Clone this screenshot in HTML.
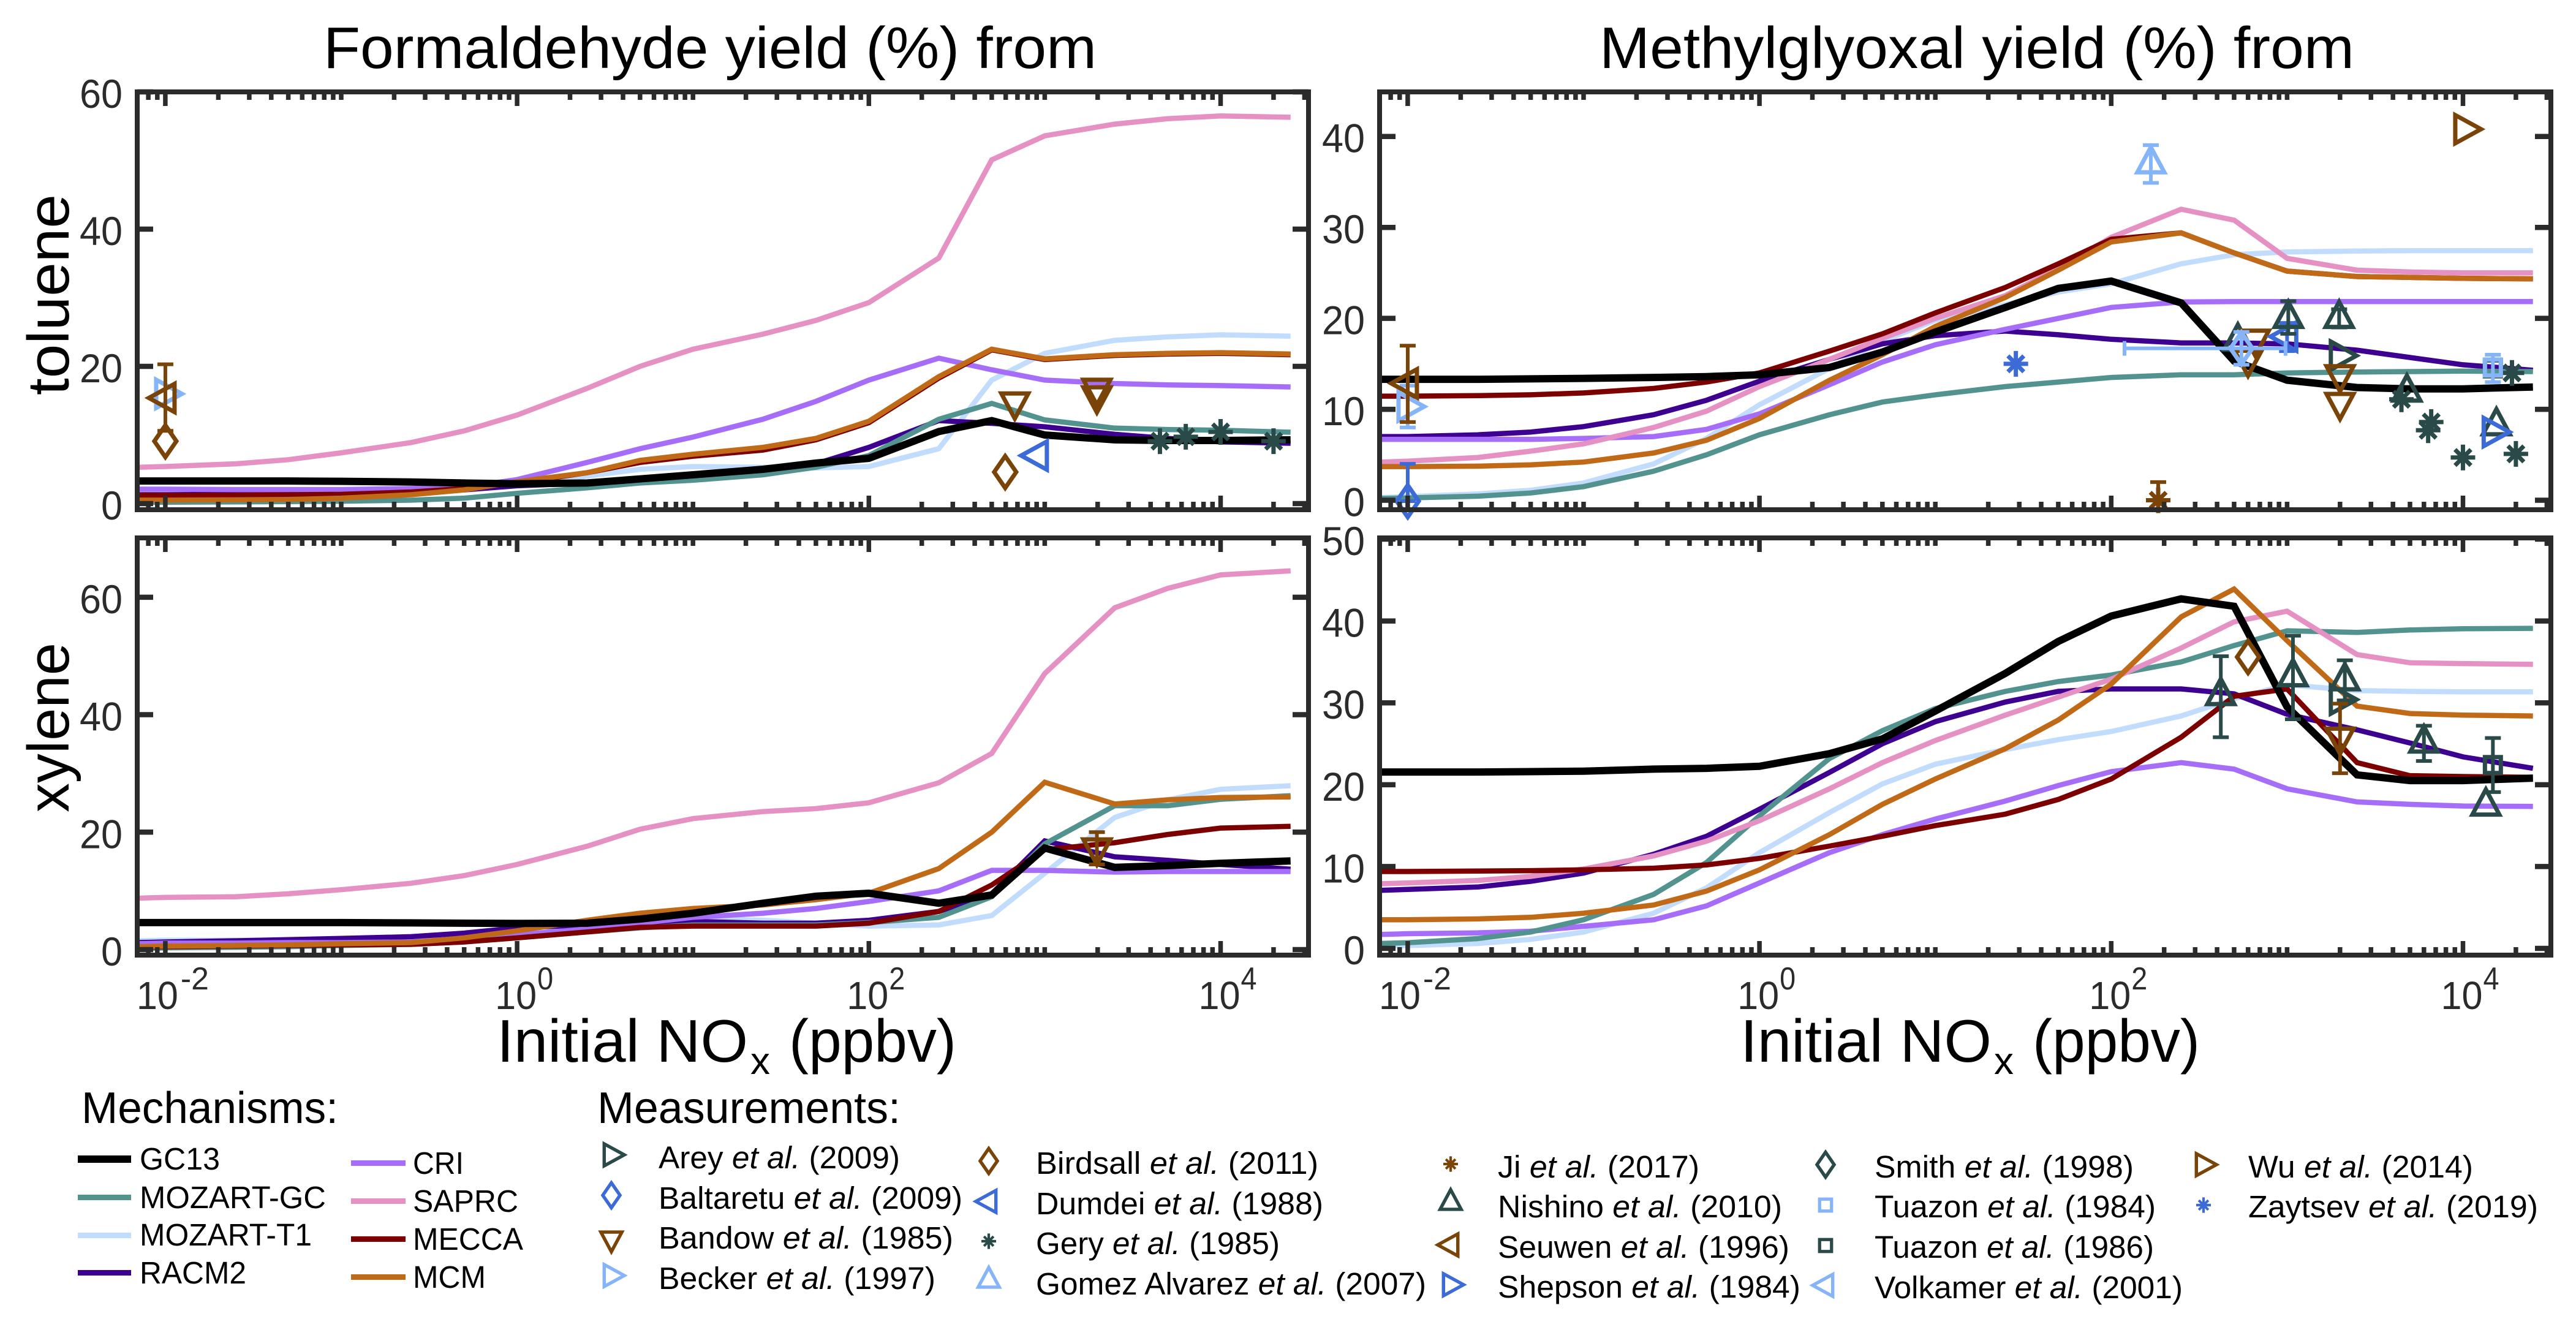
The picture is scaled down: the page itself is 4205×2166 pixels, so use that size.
<!DOCTYPE html>
<html lang="en">
<head>
<meta charset="utf-8">
<title>Formaldehyde and methylglyoxal yields</title>
<style>
html,body{margin:0;padding:0;background:#fff;width:4205px;height:2166px;overflow:hidden}
svg{display:block}
text{font-family:"Liberation Sans",sans-serif}
</style>
</head>
<body>
<svg id="figure" xmlns="http://www.w3.org/2000/svg" width="4205" height="2166" viewBox="0 0 4205 2166">
<rect x="0" y="0" width="4205" height="2166" fill="#fff"/>
<text x="528" y="111" font-size="96" textLength="1262" lengthAdjust="spacingAndGlyphs">Formaldehyde yield (%) from</text>
<text x="2611" y="111" font-size="96" textLength="1232" lengthAdjust="spacingAndGlyphs">Methylglyoxal yield (%) from</text>
<text transform="translate(112,645) rotate(-90)" font-size="96" textLength="328" lengthAdjust="spacingAndGlyphs">toluene</text>
<text transform="translate(112,1326) rotate(-90)" font-size="96" textLength="277" lengthAdjust="spacingAndGlyphs">xylene</text>

<g>
<text x="811" y="1733" font-size="98" textLength="410" lengthAdjust="spacingAndGlyphs">Initial NO</text>
<text x="1225" y="1753" font-size="62" textLength="32" lengthAdjust="spacingAndGlyphs">x</text>
<text x="1288" y="1733" font-size="98" textLength="273" lengthAdjust="spacingAndGlyphs">(ppbv)</text>
</g>
<g>
<text x="2841" y="1733" font-size="98" textLength="410" lengthAdjust="spacingAndGlyphs">Initial NO</text>
<text x="3255" y="1753" font-size="62" textLength="32" lengthAdjust="spacingAndGlyphs">x</text>
<text x="3318" y="1733" font-size="98" textLength="273" lengthAdjust="spacingAndGlyphs">(ppbv)</text>
</g>

<g id="panels"></g>

<g>
<text x="133" y="1833" font-size="72" textLength="419" lengthAdjust="spacingAndGlyphs">Mechanisms:</text>
<g font-size="51">
<rect x="127" y="1886" width="87" height="12" fill="#000"/>
<text x="228" y="1909" textLength="131" lengthAdjust="spacingAndGlyphs">GC13</text>
<rect x="127" y="1950" width="87" height="9" fill="#529390"/>
<text x="228" y="1972" textLength="304" lengthAdjust="spacingAndGlyphs">MOZART-GC</text>
<rect x="127" y="2012" width="87" height="9" fill="#c2dcfd"/>
<text x="228" y="2033" textLength="281" lengthAdjust="spacingAndGlyphs">MOZART-T1</text>
<rect x="127" y="2073" width="87" height="9" fill="#3e0090"/>
<text x="228" y="2095" textLength="174" lengthAdjust="spacingAndGlyphs">RACM2</text>
<rect x="573" y="1894" width="89" height="9" fill="#a66ef8"/>
<text x="674" y="1916" textLength="83" lengthAdjust="spacingAndGlyphs">CRI</text>
<rect x="573" y="1956" width="89" height="9" fill="#e691c3"/>
<text x="674" y="1978" textLength="172" lengthAdjust="spacingAndGlyphs">SAPRC</text>
<rect x="573" y="2018" width="89" height="9" fill="#7d0000"/>
<text x="674" y="2040" textLength="180" lengthAdjust="spacingAndGlyphs">MECCA</text>
<rect x="573" y="2080" width="89" height="9" fill="#c06a18"/>
<text x="674" y="2102" textLength="119" lengthAdjust="spacingAndGlyphs">MCM</text>
</g>
</g>

<g>
<text x="975" y="1833" font-size="72" textLength="495" lengthAdjust="spacingAndGlyphs">Measurements:</text>
<g font-size="51">
<g class="lm" data-ref="arey" transform="translate(998,1885) scale(.78)"></g>
<text x="1075" y="1907" textLength="394" lengthAdjust="spacingAndGlyphs">Arey <tspan font-style="italic">et al.</tspan> (2009)</text>
<g class="lm" data-ref="baltaretu" transform="translate(998,1951) scale(.78)"></g>
<text x="1075" y="1973" textLength="496" lengthAdjust="spacingAndGlyphs">Baltaretu <tspan font-style="italic">et al.</tspan> (2009)</text>
<g class="lm" data-ref="bandow" transform="translate(998,2022) scale(.78)"></g>
<text x="1075" y="2038" textLength="481" lengthAdjust="spacingAndGlyphs">Bandow <tspan font-style="italic">et al.</tspan> (1985)</text>
<g class="lm" data-ref="becker" transform="translate(998,2082) scale(.78)"></g>
<text x="1075" y="2104" textLength="452" lengthAdjust="spacingAndGlyphs">Becker <tspan font-style="italic">et al.</tspan> (1997)</text>

<g class="lm" data-ref="birdsall" transform="translate(1614,1895) scale(.78)"></g>
<text x="1691" y="1916" textLength="461" lengthAdjust="spacingAndGlyphs">Birdsall <tspan font-style="italic">et al.</tspan> (2011)</text>
<g class="lm" data-ref="dumdei" transform="translate(1614,1961) scale(.78)"></g>
<text x="1691" y="1982" textLength="469" lengthAdjust="spacingAndGlyphs">Dumdei <tspan font-style="italic">et al.</tspan> (1988)</text>
<g class="lm" data-ref="gery" transform="translate(1614,2026) scale(.6)"></g>
<text x="1691" y="2047" textLength="398" lengthAdjust="spacingAndGlyphs">Gery <tspan font-style="italic">et al.</tspan> (1985)</text>
<g class="lm" data-ref="gomez" transform="translate(1614,2090) scale(.78)"></g>
<text x="1691" y="2113" textLength="637" lengthAdjust="spacingAndGlyphs">Gomez Alvarez <tspan font-style="italic">et al.</tspan> (2007)</text>

<g class="lm" data-ref="ji" transform="translate(2368,1900) scale(.6)"></g>
<text x="2445" y="1922" textLength="329" lengthAdjust="spacingAndGlyphs">Ji <tspan font-style="italic">et al.</tspan> (2017)</text>
<g class="lm" data-ref="nishino" transform="translate(2368,1963) scale(.78)"></g>
<text x="2445" y="1987" textLength="464" lengthAdjust="spacingAndGlyphs">Nishino <tspan font-style="italic">et al.</tspan> (2010)</text>
<g class="lm" data-ref="seuwen" transform="translate(2368,2032) scale(.78)"></g>
<text x="2445" y="2053" textLength="476" lengthAdjust="spacingAndGlyphs">Seuwen <tspan font-style="italic">et al.</tspan> (1996)</text>
<g class="lm" data-ref="shepson" transform="translate(2368,2097) scale(.78)"></g>
<text x="2445" y="2118" textLength="494" lengthAdjust="spacingAndGlyphs">Shepson <tspan font-style="italic">et al.</tspan> (1984)</text>

<g class="lm" data-ref="smith" transform="translate(2980,1901) scale(.78)"></g>
<text x="3060" y="1922" textLength="423" lengthAdjust="spacingAndGlyphs">Smith <tspan font-style="italic">et al.</tspan> (1998)</text>
<g class="lm" data-ref="tuazon84" transform="translate(2980,1967) scale(.75)"></g>
<text x="3060" y="1987" textLength="459" lengthAdjust="spacingAndGlyphs">Tuazon <tspan font-style="italic">et al.</tspan> (1984)</text>
<g class="lm" data-ref="tuazon86" transform="translate(2980,2033) scale(.75)"></g>
<text x="3060" y="2053" textLength="456" lengthAdjust="spacingAndGlyphs">Tuazon <tspan font-style="italic">et al.</tspan> (1986)</text>
<g class="lm" data-ref="volkamer" transform="translate(2980,2098) scale(.78)"></g>
<text x="3060" y="2119" textLength="503" lengthAdjust="spacingAndGlyphs">Volkamer <tspan font-style="italic">et al.</tspan> (2001)</text>

<g class="lm" data-ref="wu" transform="translate(3597,1901) scale(.78)"></g>
<text x="3670" y="1922" textLength="367" lengthAdjust="spacingAndGlyphs">Wu <tspan font-style="italic">et al.</tspan> (2014)</text>
<g class="lm" data-ref="zaytsev" transform="translate(3597,1967) scale(.6)"></g>
<text x="3670" y="1987" textLength="473" lengthAdjust="spacingAndGlyphs">Zaytsev <tspan font-style="italic">et al.</tspan> (2019)</text>
</g>
</g>
</svg>

<script>
// ---- shared x categories (initial NOx, ppbv) ----
const noxValues = [0.007,0.01,0.025,0.05,0.1,0.25,0.5,1,2.5,5,10,25,50,100,250,500,1000,2500,5000,10000,25000];
const xExponentLabels = [-2,0,2,4];

// ---- formaldehyde from toluene ----
const hchoTolueneMozartT1 = [.8,.8,.9,1,1.2,1.6,2.1,2.9,4,5,5.4,5.3,5.2,5.4,8,18,21.9,23.8,24.3,24.6,24.4];
const hchoTolueneRacm2 = [1.3,1.3,1.35,1.4,1.4,1.6,2,2.6,3,3.5,4,4.6,5.8,8.2,12.1,11.7,11.2,10.1,9.5,9,8.8];
const hchoTolueneCri = [2.1,2.1,2.05,2.05,2.05,2.2,2.4,3.5,6,8,9.7,12.3,14.9,18,21.2,19.5,18,17.5,17.3,17.2,17];
const hchoTolueneMozartGc = [.2,.2,.25,.3,.35,.5,.8,1.5,2.3,3,3.4,4.2,5.3,7,12.3,14.6,12.2,11,10.8,10.7,10.4];
const hchoTolueneSaprc = [5.3,5.4,5.8,6.4,7.4,8.9,10.6,12.9,16.8,20,22.5,24.7,26.7,29.3,35.8,50.1,53.6,55.3,56.1,56.5,56.3];
const hchoTolueneMecca = [1.2,1.2,1.25,1.3,1.35,1.7,2.2,3,4.5,6,6.9,7.8,9.3,11.8,18.3,22.4,21,21.6,21.8,21.9,21.7];
const hchoTolueneMcm = [.5,.5,.55,.6,.8,1.3,2,3.2,4.5,6.3,7.2,8.2,9.5,12,18.5,22.5,21.1,21.7,21.9,22,21.8];
const hchoTolueneGc13 = [3.3,3.3,3.3,3.3,3.25,3.15,3,2.9,3,3.6,4.2,5,5.9,6.6,10.5,12.1,10,9.3,9.2,9.2,9.3];
const hchoTolueneMeasured = [
 {ref:'becker',x:.01,y:16},
 {ref:'seuwen',x:.01,y:15.4,lo:10.6,hi:20.3},
 {ref:'birdsall',x:.01,y:9.1},
 {ref:'bandow',x:676,y:14.8},
 {ref:'bandow',x:1980,y:16.8},
 {ref:'bandow',x:1980,y:15.7},
 {ref:'birdsall',x:596,y:4.6},
 {ref:'dumdei',x:912,y:7},
 {ref:'gery',x:4520,y:9.1},
 {ref:'gery',x:6340,y:9.75},
 {ref:'gery',x:10000,y:10.45},
 {ref:'gery',x:20000,y:9.1}
];

// ---- methylglyoxal from toluene ----
const mglyTolueneMozartT1 = [.3,.4,.7,1.1,1.9,4,6.8,10.5,14.5,17.5,19.8,21.5,22.9,23.8,26,27,27.3,27.4,27.45,27.45,27.45];
const mglyTolueneRacm2 = [7,7,7.2,7.5,8.1,9.4,11,13.1,15.5,17.2,18.1,18.6,18.2,17.7,17.3,17.3,17.2,16.5,15.7,14.9,14.3];
const mglyTolueneCri = [6.7,6.7,6.7,6.7,6.8,7,7.8,9.5,12.7,15.2,17.1,18.8,20,21.2,21.8,21.85,21.85,21.85,21.85,21.85,21.85];
const mglyTolueneMozartGc = [.2,.25,.45,.8,1.5,3.2,5,7.2,9.4,10.8,11.6,12.5,13,13.5,13.8,13.8,14,14.1,14.15,14.2,14.15];
const mglyTolueneSaprc = [4.2,4.3,4.7,5.4,6.2,8,9.8,12.5,15.5,17.8,20,22.5,25.5,28.9,32,30.8,26.6,25.3,25.1,25,25];
const mglyTolueneMecca = [11.45,11.45,11.5,11.6,11.8,12.3,13,14,16.4,18.3,20.6,23.4,26,28.7,29.4,27.2,25.2,24.6,24.5,24.4,24.35];
const mglyTolueneMcm = [3.7,3.7,3.75,3.9,4.2,5.2,6.6,9,13.2,16,19.1,22.3,25.3,28.4,29.4,27.2,25.2,24.6,24.5,24.4,24.35];
const mglyTolueneGc13 = [13.3,13.3,13.3,13.35,13.4,13.5,13.6,13.8,14.6,16.3,18.5,21.2,23.3,24.1,21.7,15.3,13.2,12.4,12.25,12.25,12.45];
const mglyTolueneMeasured = [
 {ref:'becker',x:.01,y:10.3,lo:8,hi:12.6},
 {ref:'seuwen',x:.01,y:12.85,lo:8.6,hi:17},
 {ref:'baltaretu',x:.01,y:-.1,lo:-.1,hi:4},
 {ref:'zaytsev',x:28.7,y:15},
 {ref:'gomez',x:168,y:37,lo:34.9,hi:39.05},
 {ref:'ji',x:185,y:0,lo:0,hi:2},
 {ref:'nishino',x:525,y:17.5},
 {ref:'bandow',x:660,y:17.7},
 {ref:'bandow',x:600,y:15.5},
 {ref:'dumdei',x:1000,y:18,lo:16.4,hi:19.5},
 {ref:'nishino',x:1016,y:20,lo:18.3,hi:21.9},
 {ref:'nishino',x:1977,y:20,lo:19,hi:21},
 {ref:'arey',x:2000,y:15.9},
 {ref:'bandow',x:2000,y:13.8},
 {ref:'bandow',x:2000,y:10.75},
 {ref:'gery',x:4470,y:11.1},
 {ref:'nishino',x:4800,y:11.9},
 {ref:'gery',x:6600,y:8.6},
 {ref:'gery',x:6340,y:7.7},
 {ref:'gery',x:10000,y:4.7},
 {ref:'gery',x:20000,y:5.1},
 {ref:'gery',x:19000,y:14},
 {ref:'nishino',x:15500,y:8.2},
 {ref:'shepson',x:14800,y:7.5},
 {ref:'tuazon86',x:14800,y:14.5},
 {ref:'tuazon84',x:14800,y:14.6,lo:13,hi:16},
 {ref:'wu',x:10200,y:40.8},
 {ref:'lightDiamond',x:550,y:16.7,lo:14.9,hi:18.5,xlo:119,xhi:980}
];

// ---- formaldehyde from xylene ----
const hchoXyleneMozartT1 = [1.5,1.6,1.6,1.6,1.7,1.9,2.3,3,3.8,4.5,5.3,5,4.5,4,4.2,5.8,13,22.5,25.5,27.3,27.9];
const hchoXyleneRacm2 = [1.2,1.3,1.5,1.7,1.9,2.2,2.8,3.7,4.2,4.6,4.8,4.5,4.5,5,6.5,9.5,18.5,15.8,15.2,14.5,13.7];
const hchoXyleneCri = [1,1.1,1.1,1.2,1.2,1.3,1.7,2.5,3.5,4.5,5.5,6.2,7,8.2,10,13.5,13.5,13.2,13.3,13.3,13.3];
const hchoXyleneMozartGc = [.1,.3,.4,.5,.7,.9,1.3,2,3,3.7,4.2,4.2,4.2,4.6,5.5,9,18,24.5,24.5,25.6,26.2];
const hchoXyleneSaprc = [8.75,8.9,9,9.5,10.2,11.3,12.6,14.5,17.6,20.5,22.3,23.5,24,25,28.4,33.4,47,58.2,61.5,63.8,64.5];
const hchoXyleneMecca = [.4,.5,.6,.7,.8,.9,1.3,2,3,3.8,4,4,4,4.5,6.5,11,17,18.2,19.6,20.7,21];
const hchoXyleneMcm = [.5,.6,.7,.8,1,1.2,2,3.2,5,6.2,7,7.6,8.5,9.6,13.8,20,28.5,24.8,25.5,25.9,26];
const hchoXyleneGc13 = [4.6,4.6,4.6,4.6,4.6,4.55,4.5,4.45,4.5,5.2,6.2,7.9,9.1,9.6,7.9,9.3,17.3,14,14.3,14.7,15.1];
const hchoXyleneMeasured = [
 {ref:'bandow',x:1980,y:17.3,lo:14.5,hi:20}
];

// ---- methylglyoxal from xylene ----
const mglyXyleneMozartT1 = [.3,.35,.6,1.1,2,4.3,7.4,11.7,16.6,20.1,22.5,24.3,25.5,26.5,28.4,30.5,32.2,31.5,31.4,31.35,31.35];
const mglyXyleneRacm2 = [7.1,7.2,7.5,8.2,9.2,11.5,13.7,17,21.5,25,27.7,30.1,31.4,31.7,31.7,31.1,28.6,26.7,25.1,23.4,22];
const mglyXyleneCri = [1.7,1.8,1.9,2.1,2.7,3.5,5.2,8,11.7,13.9,15.8,18,19.9,21.6,22.7,21.9,19.5,17.9,17.6,17.4,17.35];
const mglyXyleneMozartGc = [.6,.7,1.2,2,3.5,6.6,10.5,16.2,23.2,26.6,29.3,31.4,32.6,33.4,35,37,38.8,38.6,38.9,39.05,39.1];
const mglyXyleneSaprc = [7.9,8,8.3,8.8,9.7,11.3,13.1,15.6,19.5,22.7,25.4,28.5,30.7,32.9,36.7,39.9,41.2,35.9,34.9,34.8,34.7];
const mglyXyleneMecca = [9.4,9.4,9.45,9.5,9.6,9.8,10.2,11,12.5,13.7,15,16.4,18.2,20.7,25.8,30.8,31.7,22.7,21.1,21,20.9];
const mglyXyleneMcm = [3.5,3.5,3.6,3.8,4.3,5.3,7,9.6,13.9,17.6,20.7,24.4,27.9,32.3,40.5,43.9,37.6,29.6,28.7,28.5,28.4];
const mglyXyleneGc13 = [21.55,21.55,21.55,21.6,21.65,21.9,22,22.25,23.8,25.6,29,33.6,37.5,40.6,42.7,41.8,29.5,21.2,20.5,20.5,20.8];
const mglyXyleneMeasured = [
 {ref:'nishino',x:420,y:30.9,lo:25.8,hi:35.7},
 {ref:'birdsall',x:600,y:35.6},
 {ref:'nishino',x:1080,y:33.2,lo:28,hi:38.2},
 {ref:'nishino',x:2130,y:32.7,lo:30.3,hi:35.2},
 {ref:'arey',x:2000,y:30.4},
 {ref:'bandow',x:2000,y:25.8,lo:21.4,hi:29.9},
 {ref:'nishino',x:6000,y:25.1,lo:22.9,hi:27.2},
 {ref:'tuazon86',x:14800,y:22.4,lo:19.1,hi:25.7},
 {ref:'nishino',x:13500,y:17.4}
];

// ---- y-axis tick labels ----
const yTicksHchoToluene = [0,20,40,60];
const yTicksMglyToluene = [0,10,20,30,40];
const yTicksHchoXylene = [0,20,40,60];
const yTicksMglyXylene = [0,10,20,30,40,50];

const mechanismStyles = {
  mozartT1:{name:'mozart-t1',color:'#c2dcfd',width:8.5},
  racm2:{name:'racm2',color:'#3e0090',width:8.5},
  cri:{name:'cri',color:'#a66ef8',width:8.5},
  mozartGc:{name:'mozart-gc',color:'#529390',width:8.5},
  saprc:{name:'saprc',color:'#e691c3',width:8.5},
  mecca:{name:'mecca',color:'#7d0000',width:8.5},
  mcm:{name:'mcm',color:'#c06a18',width:8.5},
  gc13:{name:'gc13',color:'#000000',width:12}
};
const DARK='#2a4a4a', BROWN='#7a4408', ROYAL='#3c6bd8', LIGHT='#85b5f8';
const markerStyles = {
  arey:{shape:'right',color:DARK}, baltaretu:{shape:'diamond',color:ROYAL}, bandow:{shape:'down',color:BROWN},
  becker:{shape:'right',color:LIGHT}, birdsall:{shape:'diamond',color:BROWN}, dumdei:{shape:'left',color:ROYAL},
  gery:{shape:'asterisk',color:DARK}, gomez:{shape:'up',color:LIGHT}, ji:{shape:'asterisk',color:BROWN},
  nishino:{shape:'up',color:DARK}, seuwen:{shape:'left',color:BROWN}, shepson:{shape:'right',color:ROYAL},
  smith:{shape:'diamond',color:DARK}, tuazon84:{shape:'square',color:LIGHT}, tuazon86:{shape:'square',color:DARK},
  volkamer:{shape:'left',color:LIGHT}, lightDiamond:{shape:'diamond',color:LIGHT}, wu:{shape:'right',color:BROWN}, zaytsev:{shape:'asterisk',color:ROYAL}
};
const shapePaths = {
  up:'M0,-27L22,14L-22,14Z', down:'M0,27L22,-14L-22,-14Z',
  right:'M27,0L-15,-23L-15,23Z', left:'M-27,0L15,-23L15,23Z',
  diamond:'M0,-26L18,0L0,26L-18,0Z', square:'M-13,-13L13,-13L13,13L-13,13Z',
  asterisk:'M0,-21V21M-20,0H20M-13,-13L13,13M-13,13L13,-13'
};
const AXIS_COLOR='#2b2b2b';
const NS='http://www.w3.org/2000/svg';

function svgEl(tag, parent, attrs){
  const el=document.createElementNS(NS,tag);
  for(const k in attrs){ el.setAttribute(k,attrs[k]); }
  parent.appendChild(el);
  return el;
}

function markerShape(parent, ref){
  const st=markerStyles[ref];
  const p=svgEl('path',parent,{d:shapePaths[st.shape],fill:'none',stroke:st.color,'stroke-width':7,'stroke-linejoin':'miter','stroke-miterlimit':10});
  
  
  return p;
}

function drawPanel(cfg){
  const root=document.getElementById('panels');
  const g=svgEl('g',root,{});
  
  
  const xMinLog=-2.16, xMaxLog=4.5;
  const xScale=v=>cfg.left+(Math.log10(v)-xMinLog)/(xMaxLog-xMinLog)*(cfg.right-cfg.left);
  const yScale=v=>cfg.bottom-(v-cfg.yMin)/(cfg.yMax-cfg.yMin)*(cfg.bottom-cfg.top);

  // series
  const linesG=svgEl('g',g,{fill:'none','stroke-linejoin':'miter','stroke-linecap':'butt'});
  
  
  cfg.series.forEach(function(s){
    const st=mechanismStyles[s.key];
    const pts=s.values.map((v,i)=>xScale(noxValues[i]).toFixed(1)+','+yScale(v).toFixed(1)).join(' ');
    const pl=svgEl('polyline',linesG,{points:pts,stroke:st.color,'stroke-width':st.width});
    
    
  });

  // measurements
  const mG=svgEl('g',g,{});
  
  
  cfg.measured.forEach(function(m){
    const col=markerStyles[m.ref].color;
    const cx=xScale(m.x), cy=yScale(m.y);
    const pg=svgEl('g',mG,{});
    
    
    if(m.lo!==undefined){
      const ly=yScale(m.lo), hy=yScale(m.hi);
      const d='M'+cx+','+ly+'V'+hy+'M'+(cx-13)+','+ly+'H'+(cx+13)+'M'+(cx-13)+','+hy+'H'+(cx+13);
      const e=svgEl('path',pg,{d:d,fill:'none',stroke:col,'stroke-width':6});
      
      
    }
    if(m.xlo!==undefined){
      const lx=xScale(m.xlo), hx=xScale(m.xhi);
      const d='M'+lx+','+cy+'H'+hx+'M'+lx+','+(cy-12)+'V'+(cy+12)+'M'+hx+','+(cy-12)+'V'+(cy+12);
      const e=svgEl('path',pg,{d:d,fill:'none',stroke:col,'stroke-width':6});
      
      
    }
    const mk=svgEl('g',pg,{transform:'translate('+cx+','+cy+')'});
    
    
    markerShape(mk,m.ref);
  });

  // frame and ticks
  const axG=svgEl('g',g,{fill:'none',stroke:AXIS_COLOR});
  
  
  const frame=svgEl('rect',axG,{x:cfg.left,y:cfg.top,width:cfg.right-cfg.left,height:cfg.bottom-cfg.top,'stroke-width':8});
  
  
  let minor='', major='';
  for(let e=-3;e<=4;e++){
    for(let m=1;m<=9;m++){
      const v=m*Math.pow(10,e);
      const px=xScale(v);
      if(px<cfg.left+2||px>cfg.right-2) continue;
      const isMajor=(m===1&&e%2===0);
      const len=isMajor?23:13;
      const seg='M'+px.toFixed(1)+','+cfg.top+'v'+len+'M'+px.toFixed(1)+','+cfg.bottom+'v-'+len;
      if(isMajor){ major+=seg; } else { minor+=seg; }
    }
  }
  const mnr=svgEl('path',axG,{d:minor,'stroke-width':7.5});
  
  
  const mjr=svgEl('path',axG,{d:major,'stroke-width':7.5});
  
  

  cfg.yTicks.forEach(function(t){
    const py=yScale(t);
    const tk=svgEl('path',axG,{d:'M'+cfg.left+','+py+'h26M'+cfg.right+','+py+'h-26','stroke-width':8.5});
    
    
    const text=String(t);
    const lb=svgEl('text',g,{x:cfg.left-24,y:py+26,'font-size':66,'text-anchor':'end',fill:AXIS_COLOR,textLength:text.length*35,lengthAdjust:'spacingAndGlyphs'});
    
    
    lb.textContent=text;
  });

  if(cfg.showXLabels){
    xExponentLabels.forEach(function(exp){
      const tx=xScale(Math.pow(10,exp));
      const start=tx+(exp<0?-47:-36);
      const supX=tx+(exp<0?25:33);
      const base=svgEl('text',g,{x:start,y:1647,'font-size':64,fill:AXIS_COLOR,textLength:68,lengthAdjust:'spacingAndGlyphs'});
      
      
      base.textContent='10';
      const sup=svgEl('text',g,{x:supX,y:1615,'font-size':52,fill:AXIS_COLOR,textLength:exp<0?46:26,lengthAdjust:'spacingAndGlyphs'});
      
      
      sup.textContent=String(exp);
    });
  }
}

drawPanel({name:'panel-formaldehyde-toluene',left:224,right:2136,top:150,bottom:832,yMin:-.89,yMax:60,yTicks:yTicksHchoToluene,showXLabels:false,measured:hchoTolueneMeasured,
  series:[{key:'mozartT1',values:hchoTolueneMozartT1},{key:'racm2',values:hchoTolueneRacm2},{key:'cri',values:hchoTolueneCri},{key:'mozartGc',values:hchoTolueneMozartGc},{key:'saprc',values:hchoTolueneSaprc},{key:'mecca',values:hchoTolueneMecca},{key:'mcm',values:hchoTolueneMcm},{key:'gc13',values:hchoTolueneGc13}]});
drawPanel({name:'panel-methylglyoxal-toluene',left:2252,right:4164,top:150,bottom:832,yMin:-1.04,yMax:44.9,yTicks:yTicksMglyToluene,showXLabels:false,measured:mglyTolueneMeasured,
  series:[{key:'mozartT1',values:mglyTolueneMozartT1},{key:'racm2',values:mglyTolueneRacm2},{key:'cri',values:mglyTolueneCri},{key:'mozartGc',values:mglyTolueneMozartGc},{key:'saprc',values:mglyTolueneSaprc},{key:'mecca',values:mglyTolueneMecca},{key:'mcm',values:mglyTolueneMcm},{key:'gc13',values:mglyTolueneGc13}]});
drawPanel({name:'panel-formaldehyde-xylene',left:224,right:2136,top:878,bottom:1559,yMin:-.94,yMax:70.1,yTicks:yTicksHchoXylene,showXLabels:true,measured:hchoXyleneMeasured,
  series:[{key:'mozartT1',values:hchoXyleneMozartT1},{key:'racm2',values:hchoXyleneRacm2},{key:'cri',values:hchoXyleneCri},{key:'mozartGc',values:hchoXyleneMozartGc},{key:'saprc',values:hchoXyleneSaprc},{key:'mecca',values:hchoXyleneMecca},{key:'mcm',values:hchoXyleneMcm},{key:'gc13',values:hchoXyleneGc13}]});
drawPanel({name:'panel-methylglyoxal-xylene',left:2252,right:4164,top:878,bottom:1559,yMin:-.82,yMax:50.15,yTicks:yTicksMglyXylene,showXLabels:true,measured:mglyXyleneMeasured,
  series:[{key:'mozartT1',values:mglyXyleneMozartT1},{key:'racm2',values:mglyXyleneRacm2},{key:'cri',values:mglyXyleneCri},{key:'mozartGc',values:mglyXyleneMozartGc},{key:'saprc',values:mglyXyleneSaprc},{key:'mecca',values:mglyXyleneMecca},{key:'mcm',values:mglyXyleneMcm},{key:'gc13',values:mglyXyleneGc13}]});

document.querySelectorAll('.lm').forEach(function(g){
  markerShape(g,g.getAttribute('data-ref'));
});
</script>
</body>
</html>
